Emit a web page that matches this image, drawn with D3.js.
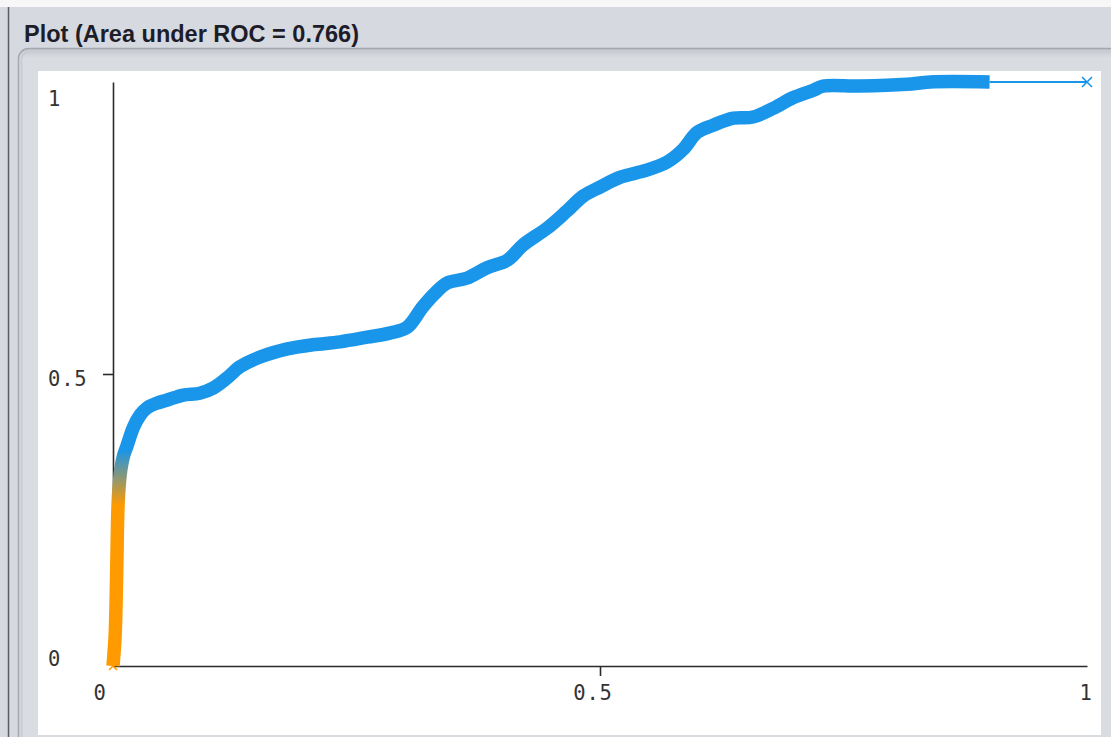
<!DOCTYPE html>
<html>
<head>
<meta charset="utf-8">
<script src="https://cdn.jsdelivr.net/npm/d3@7"></script>
<style>
  html, body { margin: 0; padding: 0; background: #d6d9df; overflow: hidden; }
  svg { display: block; }
</style>
</head>
<body>
<svg id="chart" width="1111" height="737"></svg>
<script>
// ROC curve points (false positive rate, true positive rate)
const titleText = "Plot (Area under ROC = 0.766)";
const falsePositiveRate = [0, 0.002, 0.003, 0.004, 0.005, 0.006, 0.008, 0.011, 0.014, 0.021,
  0.028, 0.035, 0.045, 0.055, 0.072, 0.089, 0.103, 0.117, 0.130, 0.151,
  0.179, 0.205, 0.233, 0.261, 0.284, 0.302, 0.318, 0.331, 0.343, 0.363,
  0.384, 0.405, 0.421, 0.446, 0.466, 0.483, 0.500, 0.521, 0.548, 0.569,
  0.585, 0.600, 0.616, 0.637, 0.657, 0.678, 0.698, 0.719, 0.729, 0.767,
  0.815, 0.839, 0.900, 1];
const truePositiveRate = [0, 0.045, 0.096, 0.182, 0.267, 0.301, 0.336, 0.361, 0.375, 0.409,
  0.430, 0.442, 0.450, 0.455, 0.464, 0.467, 0.476, 0.493, 0.512, 0.529,
  0.543, 0.550, 0.555, 0.563, 0.570, 0.580, 0.615, 0.639, 0.656, 0.664,
  0.682, 0.695, 0.721, 0.750, 0.779, 0.805, 0.820, 0.837, 0.849, 0.863,
  0.884, 0.914, 0.926, 0.938, 0.940, 0.955, 0.973, 0.986, 0.993, 0.993,
  0.996, 1.0, 1.0, 1];
const tickValues = [0, 0.5, 1];
const tickLabels = ["0", "0.5", "1"];
// threshold colouring: low thresholds orange, high thresholds blue
const colourStops = [0.275, 0.37];
const colourRange = ["#ff9a00", "#1995e9"];

const svg = d3.select("#chart");
const W = 1111, H = 737;

// window chrome
svg.append("rect").attr("x", 0).attr("y", 0).attr("width", W).attr("height", H).attr("fill", "#d6d9df");
svg.append("rect").attr("x", 0).attr("y", 0).attr("width", W).attr("height", 7).attr("fill", "#f7f7f8");
svg.append("line").attr("x1", 8.5).attr("x2", 8.5).attr("y1", 7).attr("y2", H)
  .attr("stroke", "#5a5c60").attr("stroke-width", 1.5);

svg.append("text").attr("x", 24).attr("y", 42)
  .attr("font-family", "'Liberation Sans', Arial, sans-serif")
  .attr("font-weight", "bold").attr("font-size", 23.5).attr("fill", "#1d1d2a")
  .text(titleText);

// titled panel with rounded corner
const defs = svg.append("defs");
const shade = defs.append("linearGradient").attr("id", "panelShade")
  .attr("x1", 0).attr("y1", 0).attr("x2", 0).attr("y2", 1)
  .attr("gradientUnits", "objectBoundingBox");
shade.append("stop").attr("offset", 0).attr("stop-color", "#c3c6cc");
shade.append("stop").attr("offset", 0.012).attr("stop-color", "#d9dce1");
shade.append("stop").attr("offset", 1).attr("stop-color", "#d9dce1");
svg.append("rect").attr("x", 18.5).attr("y", 48.5).attr("width", 1200).attr("height", 800)
  .attr("rx", 10).attr("fill", "url(#panelShade)").attr("stroke", "#a4a8ae").attr("stroke-width", 1.5);
svg.append("rect").attr("x", 21.5).attr("y", 51.5).attr("width", 1200).attr("height", 800)
  .attr("rx", 8).attr("fill", "none").attr("stroke", "#c9ccd1").attr("stroke-width", 2);

// plotting surface
svg.append("rect").attr("x", 38).attr("y", 71).attr("width", 1063).attr("height", 664).attr("fill", "#ffffff");

const x = d3.scaleLinear().domain([0, 1]).range([113, 1087]);
const y = d3.scaleLinear().domain([0, 1]).range([666, 82]);

// axes
svg.append("g").attr("transform", `translate(${x(0)},0)`)
  .call(d3.axisLeft(y).tickValues([0.5]).tickSize(10).tickSizeOuter(0).tickFormat(""))
  .call(g => g.selectAll("path, line").attr("stroke", "#2b2b2b").attr("stroke-width", 1.6));
svg.append("g").attr("transform", `translate(0,${y(0)})`)
  .call(d3.axisBottom(x).tickValues([0.5]).tickSize(10).tickSizeOuter(0).tickFormat(""))
  .call(g => g.selectAll("path, line").attr("stroke", "#2b2b2b").attr("stroke-width", 1.6));

const labelFont = "'DejaVu Sans Mono', monospace";
svg.append("g").selectAll("text").data(tickValues).join("text")
  .attr("x", 48).attr("y", d => y(d) + 24 * d)
  .attr("font-family", labelFont).attr("font-size", 20.5).attr("fill", "#333333")
  .attr("letter-spacing", 0.8)
  .text((d, i) => tickLabels[i]);
svg.append("g").selectAll("text").data(tickValues).join("text")
  .attr("x", d => x(d) - 13 + 12 * d).attr("y", 700)
  .attr("text-anchor", "middle")
  .attr("font-family", labelFont).attr("font-size", 20.5).attr("fill", "#333333")
  .attr("letter-spacing", 0.8)
  .text((d, i) => tickLabels[i]);

// ROC curve
const points = falsePositiveRate.map((f, i) => ({ fpr: f, tpr: truePositiveRate[i] }));
const last = points[points.length - 1];
const dense = points.slice(0, points.length - 1);

const grad = defs.append("linearGradient").attr("id", "thresholdColour")
  .attr("gradientUnits", "userSpaceOnUse")
  .attr("x1", 0).attr("x2", 0)
  .attr("y1", y(colourStops[0])).attr("y2", y(colourStops[1]));
grad.append("stop").attr("offset", 0).attr("stop-color", colourRange[0]);
grad.append("stop").attr("offset", 1).attr("stop-color", colourRange[1]);

const line = d3.line().x(d => x(d.fpr)).y(d => y(d.tpr)).curve(d3.curveCatmullRom.alpha(0.5));

svg.append("path").datum(dense)
  .attr("d", line)
  .attr("fill", "none")
  .attr("stroke", "url(#thresholdColour)")
  .attr("stroke-width", 13.5)
  .attr("stroke-linejoin", "round")
  .attr("stroke-linecap", "butt");

svg.append("line")
  .attr("x1", x(dense[dense.length - 1].fpr)).attr("y1", y(dense[dense.length - 1].tpr))
  .attr("x2", x(last.fpr)).attr("y2", y(last.tpr))
  .attr("stroke", colourRange[1]).attr("stroke-width", 1.8);

// point markers at both ends of the curve
const marker = (p, colour, size) => {
  const cx = x(p.fpr), cy = y(p.tpr), s = size / 2;
  svg.append("path")
    .attr("d", `M${cx - s},${cy - s}L${cx + s},${cy + s}M${cx - s},${cy + s}L${cx + s},${cy - s}`)
    .attr("stroke", colour).attr("stroke-width", 1.6).attr("fill", "none");
};
marker(points[0], colourRange[0], 8);
marker(last, colourRange[1], 10);
</script>
</body>
</html>
